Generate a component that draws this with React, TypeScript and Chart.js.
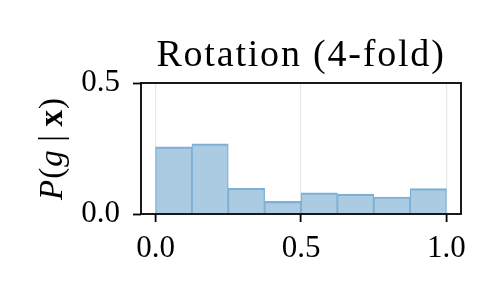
import React, { useEffect, useRef } from "react";
import { Chart, registerables } from "chart.js";

Chart.register(...registerables);

const binCenters = [0.0625, 0.1875, 0.3125, 0.4375, 0.5625, 0.6875, 0.8125, 0.9375];
const binValues = [0.256, 0.268, 0.098, 0.048, 0.081, 0.076, 0.065, 0.097];
const xTicks = [0, 0.5, 1.0];
const yTicks = [0, 0.5];
const titleText = "Rotation (4-fold)";

const FONT = "'Liberation Serif', 'Times New Roman', serif";

const decorPlugin = {
  id: "decor",
  afterDraw(chart: any) {
    const { ctx, chartArea } = chart;
    const { left, right, top, bottom } = chartArea;
    ctx.save();
    // spines
    ctx.strokeStyle = "#000";
    ctx.lineWidth = 1.8;
    ctx.strokeRect(left, top, right - left, bottom - top);
    // title
    ctx.fillStyle = "#000";
    ctx.font = `38px ${FONT}`;
    (ctx as any).letterSpacing = "1.8px";
    ctx.textAlign = "center";
    ctx.textBaseline = "alphabetic";
    ctx.fillText(titleText, (left + right) / 2, 66);
    (ctx as any).letterSpacing = "1px";
    // y label: P(g | x)
    const segs = [
      { t: "P", f: `italic 33px ${FONT}` },
      { t: "(", f: `33px ${FONT}` },
      { t: "g", f: `italic 33px ${FONT}` },
      { t: "\u2009|\u2009", f: `33px ${FONT}` },
      { t: "x", f: `bold 33px ${FONT}` },
      { t: ")", f: `33px ${FONT}` },
    ];
    let total = 0;
    const widths = segs.map((s) => {
      ctx.font = s.f;
      const w = ctx.measureText(s.t).width;
      total += w;
      return w;
    });
    ctx.translate(62, (top + bottom) / 2);
    ctx.rotate(-Math.PI / 2);
    ctx.textAlign = "left";
    let x = -total / 2;
    segs.forEach((s, i) => {
      ctx.font = s.f;
      ctx.fillText(s.t, x, 0);
      x += widths[i];
    });
    ctx.restore();
  },
};

export default function App() {
  const ref = useRef<HTMLCanvasElement>(null);
  useEffect(() => {
    document.body.style.margin = "0";
    const chart = new Chart(ref.current!, {
      type: "bar",
      data: {
        datasets: [
          {
            data: binCenters.map((c, i) => ({ x: c, y: binValues[i] })),
            backgroundColor: "#aacbe1",
            borderColor: "#7cb0d6",
            borderWidth: { top: 2.2, left: 1.3, right: 1.3, bottom: 0 },
            borderSkipped: false,
            barPercentage: 1.0,
            categoryPercentage: 1.0,
          },
        ],
      },
      options: {
        animation: false,
        responsive: false,
        events: [],
        layout: { padding: { top: 83, right: 39, left: 0, bottom: 0 } },
        plugins: { legend: { display: false }, tooltip: { enabled: false }, title: { display: false } },
        scales: {
          x: {
            type: "linear",
            offset: false,
            min: -0.05,
            max: 1.05,
            afterFit: (s: any) => {
              s.height = 86;
            },
            afterBuildTicks: (s: any) => {
              s.ticks = xTicks.map((v) => ({ value: v }));
            },
            border: { display: false },
            grid: {
              offset: false,
              color: "#e8e8e8",
              lineWidth: 1.2,
              tickColor: "#000",
              tickWidth: 1.8,
              tickLength: 8,
            },
            ticks: {
              color: "#000",
              font: { family: FONT, size: 31 },
              padding: 8,
              maxRotation: 0,
              callback: (v: any) => Number(v).toFixed(1),
            },
          },
          y: {
            type: "linear",
            min: 0,
            max: 0.5,
            afterFit: (s: any) => {
              s.width = 141;
            },
            afterBuildTicks: (s: any) => {
              s.ticks = yTicks.map((v) => ({ value: v }));
            },
            border: { display: false },
            grid: {
              drawOnChartArea: false,
              tickColor: "#000",
              tickWidth: 1.8,
              tickLength: 8,
            },
            ticks: {
              color: "#000",
              font: { family: FONT, size: 31 },
              padding: 13,
              callback: (v: any) => Number(v).toFixed(1),
            },
          },
        },
      },
      plugins: [decorPlugin],
    } as any);
    return () => chart.destroy();
  }, []);
  return (
    <div style={{ width: 500, height: 300, background: "#fff" }}>
      <canvas ref={ref} width={500} height={300} style={{ display: "block" }} />
    </div>
  );
}
